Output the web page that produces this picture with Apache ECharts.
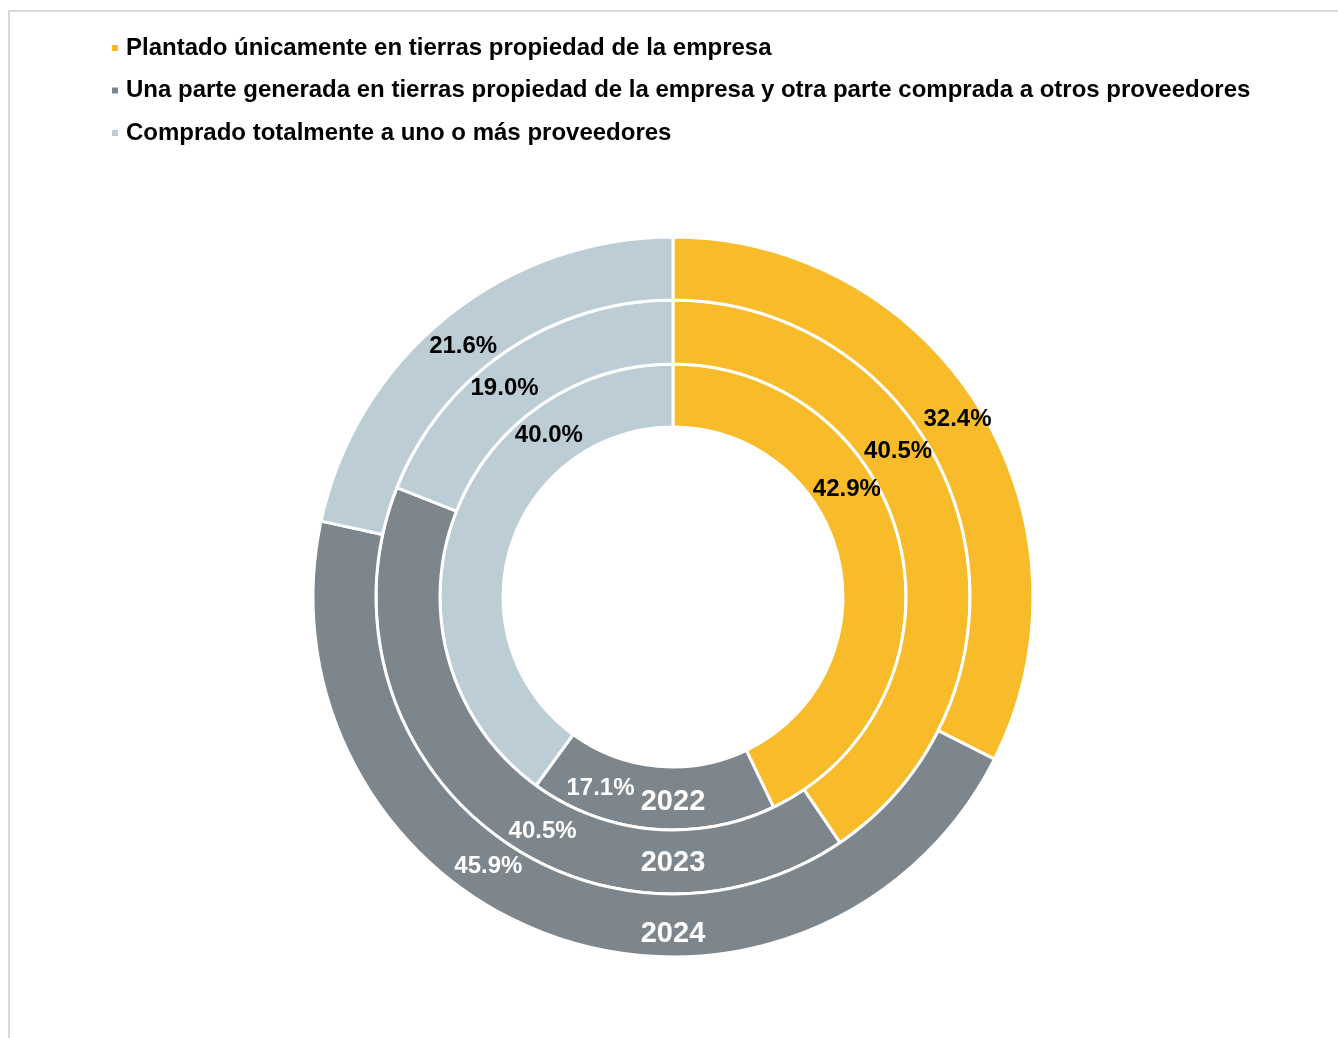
<!DOCTYPE html>
<html>
<head>
<meta charset="utf-8">
<script src="https://cdn.jsdelivr.net/npm/echarts@6/dist/echarts.min.js"></script>
<style>
    html, body { margin: 0; padding: 0; background: #fff; }
    #chart { width: 1338px; height: 1038px; }
</style>
</head>
<body>
<div id="chart"></div>
<script>
    // categories / rings
    const categories = [
        'Plantado únicamente en tierras propiedad de la empresa',
        'Una parte generada en tierras propiedad de la empresa y otra parte comprada a otros proveedores',
        'Comprado totalmente a uno o más proveedores'
    ]
    const years = ['2022', '2023', '2024']
    // % per category, inner ring to outer ring
    const share2022 = [42.9, 17.1, 40.0]
    const share2023 = [40.5, 40.5, 19.0]
    const share2024 = [32.4, 45.9, 21.6]
    const shares = [share2022, share2023, share2024]

    // layout
    const CX = 673, CY = 597
    const rings = [[170, 233], [233, 297], [297, 360]]
    // where the labels sit (degrees clockwise from 12 o'clock) + radial nudge
    const labelAngles = [[58, 201, 323], [57, 209, 321], [58, 214.6, 320]]
    const labelRadial = [[0, 0, 0], [0, 0, 0], [4, -5, -5]]
    const yearShift = [3, 1, 8]
    const colors = ['#F8BB2A', '#7D868C', '#BCCDD6']
    const font = "'Liberation Sans', Arial, sans-serif"

    const rad = d => d * Math.PI / 180

    function buildRing(i) {
        const values = shares[i]
        const total = values.reduce((a, b) => a + b, 0)
        const r = (rings[i][0] + rings[i][1]) / 2
        let acc = 0
        const data = values.map((v, j) => {
            const mid = (acc + v / 2) / total * 360
            acc += v
            const a = labelAngles[i][j]
            const r2 = r + labelRadial[i][j]
            const dx = r2 * Math.sin(rad(a)) - r * Math.sin(rad(mid))
            const dy = -r2 * Math.cos(rad(a)) + r * Math.cos(rad(mid))
            return {
                name: categories[j],
                value: v,
                label: {
                    offset: [dx, dy],
                    color: j === 1 ? '#fff' : '#000'
                }
            }
        })
        return {
            type: 'pie',
            name: years[i],
            center: [CX, CY],
            radius: rings[i],
            startAngle: 90,
            clockwise: true,
            avoidLabelOverlap: false,
            silent: true,
            itemStyle: {
                borderColor: '#fff',
                borderWidth: 3
            },
            label: {
                show: true,
                position: 'inside',
                fontFamily: font,
                fontWeight: 'bold',
                fontSize: 24,
                formatter: p => p.value.toFixed(1) + '%'
            },
            labelLine: { show: false },
            emphasis: { disabled: true },
            data: data
        }
    }

    const yearTexts = years.map((y, i) => ({
        type: 'text',
        z: 100,
        style: {
            text: y,
            x: CX,
            y: CY + (rings[i][0] + rings[i][1]) / 2 + yearShift[i],
            align: 'center',
            verticalAlign: 'middle',
            fill: '#fff',
            font: 'bold 29px ' + font
        }
    }))

    const chart = echarts.init(document.getElementById('chart'))
    chart.setOption({
        animation: false,
        color: colors,
        legend: {
            orient: 'vertical',
            left: 110,
            top: 36,
            padding: 0,
            itemWidth: 8,
            itemHeight: 8,
            itemGap: 18.5,
            icon: 'rect',
            selectedMode: false,
            textStyle: {
                fontFamily: font,
                fontWeight: 'bold',
                fontSize: 24,
                lineHeight: 24,
                padding: [0, 0, 0, 2],
                color: '#000'
            },
            data: categories
        },
        graphic: [{
            type: 'rect',
            z: -1,
            shape: { x: 9, y: 11, width: 2000, height: 2000 },
            style: { fill: 'none', stroke: '#d9d9d9', lineWidth: 2 }
        }].concat(yearTexts),
        series: [0, 1, 2].map(buildRing)
    })

    window.addEventListener('resize', () => {
        chart.resize()
    })
</script>
</body>
</html>
